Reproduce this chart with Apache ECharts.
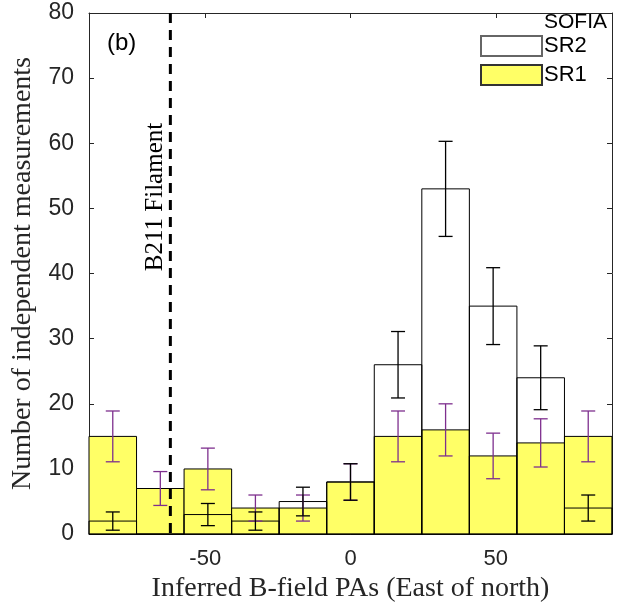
<!DOCTYPE html>
<html>
<head>
<meta charset="utf-8">
<script src="https://cdn.jsdelivr.net/npm/echarts@6/dist/echarts.min.js"></script>
<style>html,body{margin:0;padding:0;background:#fff}#c{width:624px;height:608px}</style>
</head>
<body>
<div id="c"></div>
<script>
// ---- data ----
const binRange = [-90, 90];
const binCount = 11;
const sr1Counts = [15, 7, 10, 4, 4, 8, 15, 16, 12, 14, 15];
const sr1Errors = [3.9, 2.6, 3.2, 2.0, 2.0, 2.8, 3.9, 4.0, 3.5, 3.7, 3.9];
const sr2Counts = [2, 0, 3, 2, 5, 8, 26, 53, 35, 24, 4];
const sr2Errors = [1.4, 0, 1.7, 1.4, 2.2, 2.8, 5.1, 7.3, 5.9, 4.9, 2.0];
const filamentPA = -62;
const xTicks = [-50, 0, 50];
const yTicks = [0, 10, 20, 30, 40, 50, 60, 70, 80];

const binW = (binRange[1] - binRange[0]) / binCount;
function binData(counts, errs) {
  return counts.map((v, i) => [binRange[0] + i * binW, binRange[0] + (i + 1) * binW, v, errs[i]]);
}
const sr1Data = binData(sr1Counts, sr1Errors);
const sr2Data = binData(sr2Counts, sr2Errors);

const axisColor = '#262626';
const serif = '"Liberation Serif", "Times New Roman", serif';
const sans = '"Liberation Sans", Arial, sans-serif';

function barRender(fill, stroke) {
  return function (params, api) {
    const p0 = api.coord([api.value(0), api.value(2)]);
    const p1 = api.coord([api.value(1), 0]);
    return {
      type: 'rect',
      shape: { x: p0[0], y: p0[1], width: p1[0] - p0[0], height: p1[1] - p0[1] },
      style: { fill: fill, stroke: stroke, lineWidth: 1 }
    };
  };
}
function errRender(color) {
  return function (params, api) {
    const v = api.value(2), e = api.value(3);
    if (!v || !e) return null;
    const xc = (api.value(0) + api.value(1)) / 2;
    const top = api.coord([xc, v + e]);
    const bot = api.coord([xc, v - e]);
    const cw = 7;
    const st = { stroke: color, lineWidth: 1.3 };
    return {
      type: 'group',
      children: [
        { type: 'line', shape: { x1: top[0], y1: top[1], x2: bot[0], y2: bot[1] }, style: st },
        { type: 'line', shape: { x1: top[0] - cw, y1: top[1], x2: top[0] + cw, y2: top[1] }, style: st },
        { type: 'line', shape: { x1: bot[0] - cw, y1: bot[1], x2: bot[0] + cw, y2: bot[1] }, style: st }
      ]
    };
  };
}

const chart = echarts.init(document.getElementById('c'), null, { renderer: 'canvas' });
const xBase = {
  type: 'value', min: binRange[0], max: binRange[1],
  axisLine: { show: true, onZero: false, lineStyle: { color: axisColor, width: 1 } },
  splitLine: { show: false },
  axisTick: { show: true, inside: true, length: 5, customValues: xTicks, lineStyle: { color: axisColor } }
};
const yBase = {
  type: 'value', min: 0, max: 80, interval: 10,
  axisLine: { show: true, onZero: false, lineStyle: { color: axisColor, width: 1 } },
  splitLine: { show: false },
  axisTick: { show: true, inside: true, length: 5, lineStyle: { color: axisColor } }
};

chart.setOption({
  animation: false,
  backgroundColor: '#fff',
  grid: { left: 89, right: 12, top: 13, bottom: 73 },
  xAxis: [
    Object.assign({}, xBase, {
      position: 'bottom',
      axisLabel: { show: true, customValues: xTicks, margin: 14, fontSize: 22, fontFamily: sans, color: axisColor },
      name: 'Inferred B-field PAs (East of north)',
      nameLocation: 'middle', nameGap: 37,
      nameTextStyle: { fontSize: 28, fontFamily: serif, color: axisColor }
    }),
    Object.assign({}, xBase, { position: 'top', axisLabel: { show: false } })
  ],
  yAxis: [
    Object.assign({}, yBase, {
      position: 'left',
      axisLabel: { show: true, margin: 15, fontSize: 23, fontFamily: sans, color: axisColor },
      name: 'Number of independent measurements',
      nameLocation: 'middle', nameGap: 52, nameRotate: 90,
      nameTextStyle: { fontSize: 28, fontFamily: serif, color: axisColor }
    }),
    Object.assign({}, yBase, { position: 'right', axisLabel: { show: false } })
  ],
  legend: {
    orient: 'vertical', left: 480, top: 35, padding: 0,
    itemWidth: 61, itemHeight: 20, itemGap: 7,
    icon: 'rect',
    textStyle: { fontSize: 22, fontFamily: sans, color: '#000', padding: [0, 0, 0, -3] },
    data: ['SR2', 'SR1']
  },
  graphic: [
    { type: 'text', left: 544, top: 12, style: { text: 'SOFIA', font: '21px ' + sans, fill: '#000' } },
    { type: 'text', left: 107, top: 31, style: { text: '(b)', font: '24px ' + sans, fill: '#000' } },
    { type: 'text', x: 155, y: 197, rotation: Math.PI / 2,
      style: { text: 'B211 Filament', font: '25px ' + serif, fill: '#000', textAlign: 'center', textVerticalAlign: 'middle' } }
  ],
  series: [
    { name: 'SR1', type: 'custom', renderItem: barRender('#FFFF66', '#000'), data: sr1Data, z: 2,
      itemStyle: { color: '#FFFF66', borderColor: '#333', borderWidth: 1 },
      encode: { x: [0, 1], y: 2 } },
    { name: 'SR2', type: 'custom', renderItem: barRender('none', '#000'), data: sr2Data, z: 3,
      itemStyle: { color: '#fff', borderColor: '#666', borderWidth: 1 },
      encode: { x: [0, 1], y: 2 } },
    { name: 'SR1 err', type: 'custom', renderItem: errRender('#7E2F8E'), data: sr1Data, z: 4,
      encode: { x: [0, 1], y: 2 } },
    { name: 'SR2 err', type: 'custom', renderItem: errRender('#000'), data: sr2Data, z: 5,
      encode: { x: [0, 1], y: 2 } },
    { name: 'filament', type: 'line', data: [[filamentPA, 80], [filamentPA, 0]], symbol: 'none', z: 6,
      lineStyle: { color: '#000', width: 3, type: [10, 7] } }
  ]
});
</script>
</body>
</html>
